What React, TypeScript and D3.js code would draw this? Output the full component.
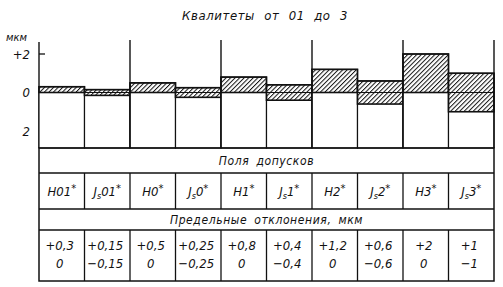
import React from "react";
import * as d3 from "d3";

// Tolerance fields for grades 01 … 3 (deviations in µm)
const categories = ["H01", "Js01", "H0", "Js0", "H1", "Js1", "H2", "Js2", "H3", "Js3"];
const fieldBase = ["H", "J", "H", "J", "H", "J", "H", "J", "H", "J"];
const fieldGrade = ["01", "01", "0", "0", "1", "1", "2", "2", "3", "3"];
const upperDev = [0.3, 0.15, 0.5, 0.25, 0.8, 0.4, 1.2, 0.6, 2, 1];
const lowerDev = [0, -0.15, 0, -0.25, 0, -0.4, 0, -0.6, 0, -1];
const yTicks = [2, 0, -2];
const yTickLabels = ["+2", "0", "2"];
const titleText = "Квалитеты от 01 до 3";
const unitText = "мкм";
const row1Text = "Поля допусков";
const row3Text = "Предельные отклонения, мкм";

const W = 503;
const H = 287;
const left = 39;
const right = 494;
const chartBottom = 148;
const rowLines = [173, 209, 230];
const tableBottom = 281;
const FONT = "'Liberation Sans Narrow', 'DejaVu Sans Condensed', 'Liberation Sans', sans-serif";

const fmt = (v: number) => {
  if (v === 0) return "0";
  const s = String(Math.abs(v)).replace(".", ",");
  return (v > 0 ? "+" : "\u2212") + s;
};

export default function App() {
  const x = d3.scaleBand<string>().domain(categories).range([left, right]).paddingInner(0);
  const y = d3.scaleLinear().domain([-2, 2]).range([131, 54]);
  const bw = x.bandwidth();
  const groupLines = categories.filter((_, i) => i % 2 === 1).map((c) => (x(c) as number) + bw);
  const cut = d3.range(1, categories.length).map((i) => x(categories[i]) as number);
  const midX = (left + right) / 2;

  return (
    <svg
      width={W}
      height={H}
      viewBox={`0 0 ${W} ${H}`}
      style={{ position: "absolute", left: 0, top: 0, background: "#fff" }}
      fontFamily={FONT}
      fontStyle="italic"
    >
      <defs>
        <pattern id="hatch" patternUnits="userSpaceOnUse" width={3.2} height={3.2} patternTransform="rotate(45)">
          <line x1={0.5} y1={0} x2={0.5} y2={3.2} stroke="#111" strokeWidth={1} />
        </pattern>
      </defs>

      <text x={265} y={20} textAnchor="middle" fontSize={13} letterSpacing={0.6} wordSpacing={5} fill="#111">
        {titleText}
      </text>

      {/* y axis */}
      <text x={6} y={41} fontSize={11} fill="#111">{unitText}</text>
      <line x1={left} y1={42} x2={left} y2={chartBottom} stroke="#111" strokeWidth={1.4} />
      {yTicks.map((t, i) => (
        <g key={t}>
          {t !== 0 && <line x1={left} x2={left + 6} y1={y(t)} y2={y(t)} stroke="#111" strokeWidth={1.3} />}
          <text x={30} y={y(t)} dy="0.36em" textAnchor="end" fontSize={13} fill="#111">
            {yTickLabels[i]}
          </text>
        </g>
      ))}

      {/* columns: hatched tolerance field above an open cell */}
      {categories.map((c, i) => {
        const x0 = x(c) as number;
        const yt = y(upperDev[i]);
        const yb = y(lowerDev[i]);
        return (
          <g key={c}>
            <rect x={x0} y={yt} width={bw} height={chartBottom - yt} fill="#fff" stroke="#111" strokeWidth={1.2} />
            <rect x={x0} y={yt} width={bw} height={yb - yt} fill="url(#hatch)" stroke="#111" strokeWidth={1.6} />
          </g>
        );
      })}
      <line x1={left} x2={right} y1={y(0)} y2={y(0)} stroke="#111" strokeWidth={1} />
      {groupLines.map((gx) => (
        <line key={gx} x1={gx} x2={gx} y1={40} y2={chartBottom} stroke="#111" strokeWidth={1.4} />
      ))}

      {/* table */}
      <rect x={left} y={chartBottom} width={right - left} height={tableBottom - chartBottom} fill="none" stroke="#111" strokeWidth={1.5} />
      {rowLines.map((ry) => (
        <line key={ry} x1={left} x2={right} y1={ry} y2={ry} stroke="#111" strokeWidth={1.4} />
      ))}
      {cut.map((cx) => (
        <g key={cx}>
          <line x1={cx} x2={cx} y1={rowLines[0]} y2={rowLines[1]} stroke="#111" strokeWidth={1.3} />
          <line x1={cx} x2={cx} y1={rowLines[2]} y2={tableBottom} stroke="#111" strokeWidth={1.3} />
        </g>
      ))}
      <text x={midX} y={(chartBottom + rowLines[0]) / 2} dy="0.36em" textAnchor="middle" fontSize={12} letterSpacing={0.6} wordSpacing={3} fill="#111">
        {row1Text}
      </text>
      <text x={midX} y={(rowLines[1] + rowLines[2]) / 2} dy="0.36em" textAnchor="middle" fontSize={12} letterSpacing={0.6} wordSpacing={3} fill="#111">
        {row3Text}
      </text>

      {categories.map((c, i) => {
        const cx = (x(c) as number) + bw / 2;
        const cy = (rowLines[0] + rowLines[1]) / 2;
        return (
          <text key={c} x={cx} y={cy} dy="0.36em" textAnchor="middle" fontSize={13} fill="#111">
            {fieldBase[i]}
            {fieldBase[i] === "J" && (
              <tspan fontSize={9} dy={3}>s</tspan>
            )}
            <tspan dy={fieldBase[i] === "J" ? -3 : 0}>{fieldGrade[i]}</tspan>
            <tspan fontSize={11} dy={-4} fontStyle="normal">*</tspan>
          </text>
        );
      })}

      {categories.map((c, i) => {
        const cx = (x(c) as number) + bw / 2 - 2;
        return (
          <g key={c} fontSize={13} fill="#111">
            <text x={cx} y={245} dy="0.36em" textAnchor="middle">{fmt(upperDev[i])}</text>
            <text x={cx} y={263} dy="0.36em" textAnchor="middle">{fmt(lowerDev[i])}</text>
          </g>
        );
      })}
    </svg>
  );
}
